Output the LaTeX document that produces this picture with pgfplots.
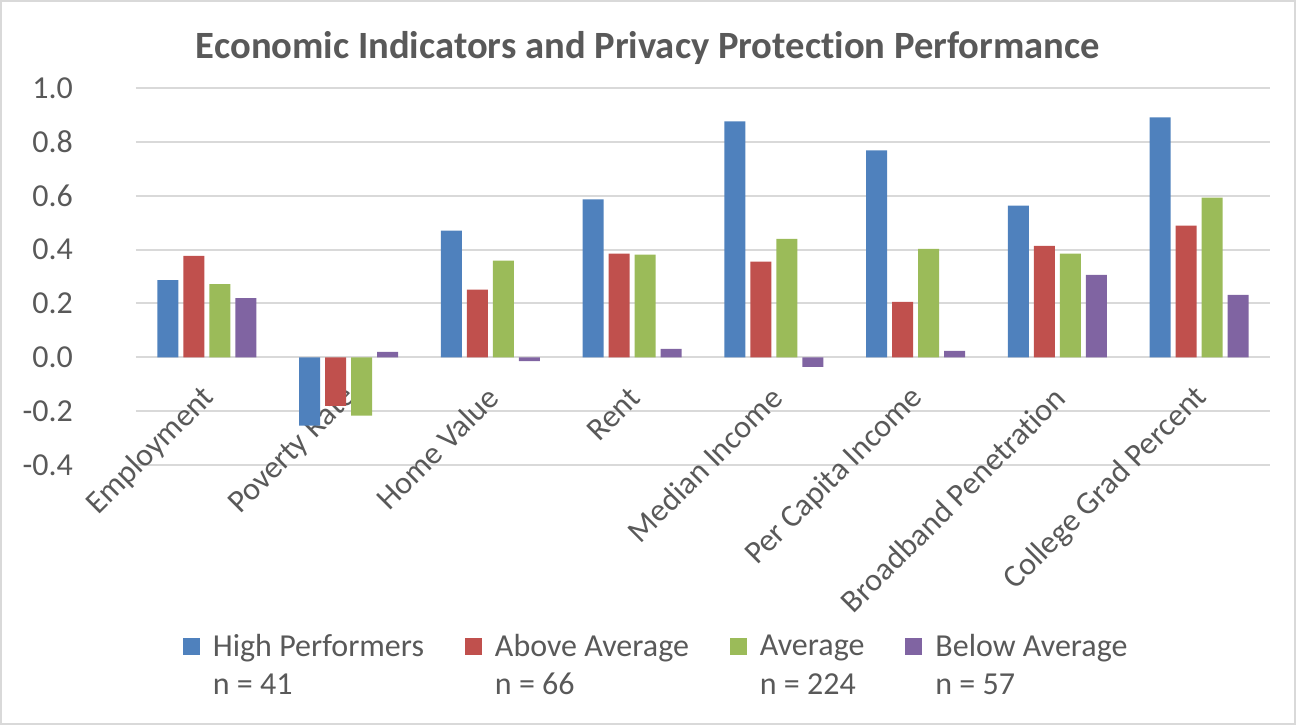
\documentclass[border=0pt]{standalone}
\usepackage{pgfplots}
\pgfplotsset{compat=1.18}
\usepackage{fontspec}
\setmainfont{Carlito}[Ligatures=NoCommon]
\definecolor{txt}{HTML}{595959}
\definecolor{cA}{HTML}{4F81BD}
\definecolor{cB}{HTML}{C0504D}
\definecolor{cC}{HTML}{9BBB59}
\definecolor{cD}{HTML}{8064A2}
\definecolor{grd}{HTML}{D9D9D9}
\begin{document}
\begin{tikzpicture}
\useasboundingbox (-68pt,-130pt) rectangle (580pt,232.5pt);
\draw[grd,line width=1pt] (-67.5pt,-129.5pt) rectangle (579.5pt,232pt);
\begin{axis}[
  at={(0,0)}, anchor=south west,
  scale only axis, width=567pt, height=188.5pt,
  ybar=2.5pt, bar width=10.5pt,
  xmin=-0.5, xmax=7.5, ymin=-0.4, ymax=1.0,
  xtick={0,...,7},
  xticklabels={Employment,Poverty Rate,Home Value,Rent,Median Income,Per Capita Income,Broadband Penetration,College Grad Percent},
  ytick={-0.4,-0.2,0,0.2,0.4,0.6,0.8,1.0},
  yticklabel style={/pgf/number format/fixed,/pgf/number format/fixed zerofill,/pgf/number format/precision=1,/pgf/number format/assume math mode=true, anchor=east, xshift=-28pt},
  font=\fontsize{16pt}{19pt}\selectfont,
  ticklabel style={text=txt},
  xticklabel style={rotate=45, anchor=east, xshift=30pt, yshift=24.6pt},
  major tick length=0pt,
  axis line style={draw=none},
  ymajorgrids, major grid style={grd, line width=1pt},
  title={\bfseries Economic Indicators and Privacy Protection Performance},
  title style={text=txt, font=\fontsize{19.3pt}{23pt}\selectfont, at={(axis description cs:0.4515,1.074)}, anchor=center},
  legend columns=4,
  legend style={at={(axis description cs:0.041,-0.436)}, anchor=north west, draw=none, fill=none, inner sep=0pt,
     text=txt, font=\fontsize{16pt}{19pt}\selectfont, cells={anchor=west}, row sep=3pt,
     /tikz/every odd column/.append style={column sep=4.5pt},
     /tikz/every even column/.append style={column sep=18.5pt}},
  legend image code/.code={\fill[#1,draw=none] (0pt,-4.25pt) rectangle (8.5pt,4.25pt);},
]
\addplot[fill=cA, draw=none] coordinates {(0,0.287) (1,-0.254) (2,0.470) (3,0.586) (4,0.876) (5,0.768) (6,0.563) (7,0.891)};
\addplot[fill=cB, draw=none] coordinates {(0,0.377) (1,-0.180) (2,0.251) (3,0.385) (4,0.355) (5,0.206) (6,0.414) (7,0.489)};
\addplot[fill=cC, draw=none] coordinates {(0,0.272) (1,-0.217) (2,0.359) (3,0.381) (4,0.440) (5,0.403) (6,0.385) (7,0.593)};
\addplot[fill=cD, draw=none] coordinates {(0,0.220) (1,0.020) (2,-0.014) (3,0.031) (4,-0.036) (5,0.024) (6,0.306) (7,0.232)};
\addlegendentry{High Performers}
\addlegendentry{Above Average}
\addlegendentry{Average}
\addlegendentry{Below Average}
\addlegendimage{empty legend}\addlegendentry{n = 41}
\addlegendimage{empty legend}\addlegendentry{n = 66}
\addlegendimage{empty legend}\addlegendentry{n = 224}
\addlegendimage{empty legend}\addlegendentry{n = 57}
\end{axis}
\end{tikzpicture}
\end{document}
